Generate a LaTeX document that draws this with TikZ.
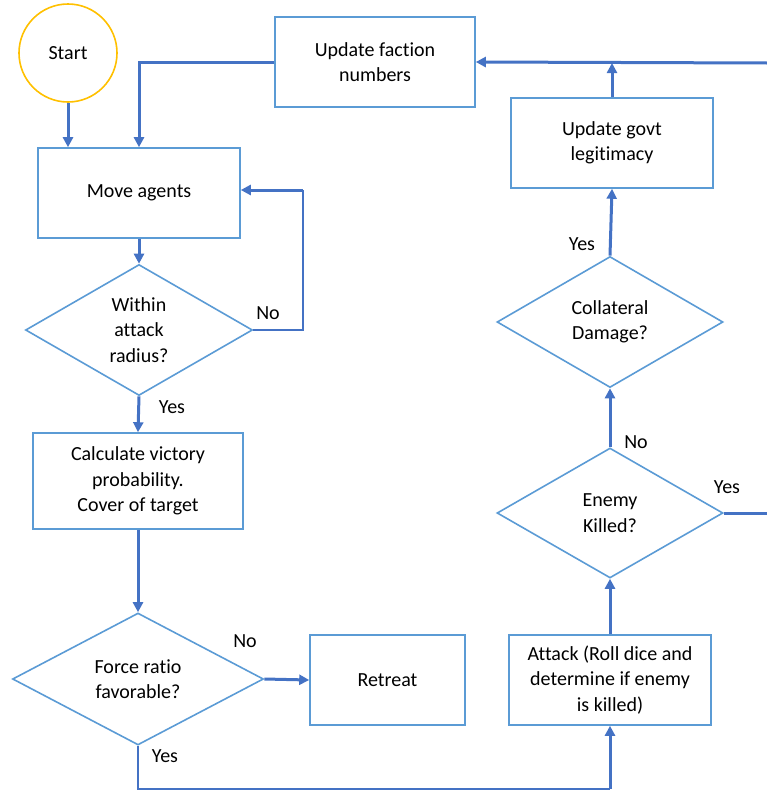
\documentclass[tikz,border=0pt]{standalone}
\usepackage{fontspec}
\setmainfont{Carlito}[Ligatures=NoCommon]
\usetikzlibrary{shapes.geometric,arrows.meta}

\definecolor{boxblue}{HTML}{5B9BD5}
\definecolor{linkblue}{HTML}{4472C4}
\definecolor{startgold}{HTML}{FFC000}

\begin{document}
\begin{tikzpicture}[x=1pt,y=-1pt,
  every node/.style={font=\fontsize{20}{25.5}\selectfont, text=black},
  box/.style={draw=boxblue, line width=1.6pt, rectangle, align=center, inner sep=0pt},
  decision/.style={draw=boxblue, line width=1.6pt, diamond, shape aspect=1.74,
                   align=center, inner sep=0pt},
  terminal/.style={draw=startgold, line width=1.6pt, circle, inner sep=0pt, minimum size=98pt},
  link/.style={draw=linkblue, line width=3pt, -{Triangle[length=10pt,width=10pt]}},
  plainlink/.style={draw=linkblue, line width=3pt},
  thinlink/.style={draw=linkblue, line width=1.5pt},
  tag/.style={inner sep=0pt}
]
\useasboundingbox (0,0) rectangle (767,790);
\clip (0,0) rectangle (767,790);

% process steps
\node[terminal] (start) at (68,53) {Start};
\node[box, minimum width=200pt, minimum height=90pt] (faction) at (375,62) {Update faction\\numbers};
\node[box, minimum width=202pt, minimum height=90pt] (govt) at (612,143) {Update govt\\legitimacy};
\node[box, minimum width=202pt, minimum height=90pt] (move) at (139,193) {Move agents};
\node[decision, minimum width=227pt, minimum height=131pt] (radius) at (139,330) {Within\\attack\\radius?};
\node[box, minimum width=210pt, minimum height=96pt] (calc) at (138,481) {Calculate victory\\probability.\\Cover of target};
\node[decision, minimum width=251pt, minimum height=132pt] (force) at (138,679) {Force ratio\\favorable?};
\node[box, minimum width=155pt, minimum height=90pt] (retreat) at (387.5,680) {Retreat};
\node[box, minimum width=202pt, minimum height=90pt] (attack) at (610,680) {Attack (Roll dice and\\determine if enemy\\is killed)};
\node[decision, minimum width=226pt, minimum height=130pt] (enemy) at (610,513) {Enemy\\Killed?};
\node[decision, minimum width=226pt, minimum height=131pt] (collat) at (610,322) {Collateral\\Damage?};

% free ends and bends
\coordinate (rin) at (767,63);
\coordinate (rout) at (767,513);
\coordinate (loopTop) at (303,190);
\coordinate (bottomTurn) at (610,789);

% connectors
\draw[link] (start.south) -- (start.south |- move.north);
\draw[link] (faction.west) -| (move.north);
\draw[link] (rin) -- (faction.east);
\draw[link] (move.south) -- (radius.north);
\draw[thinlink] (radius.east) -| (loopTop);
\draw[link] (loopTop) -- (loopTop -| move.east);
\draw[link] (radius.south) -- (calc.north);
\draw[link] (calc.south) -- (force.north);
\draw[link] (force.east) -- (retreat.west);
\draw[thinlink] (force.south) |- (bottomTurn);
\draw[link] (bottomTurn) -- (attack.south);
\draw[link] (attack.north) -- (enemy.south);
\draw[link] (enemy.north) -- (collat.south);
\draw[plainlink] (enemy.east) -- (rout);
\draw[link] (collat.north) -- (govt.south);
\draw[link] (govt.north) -- (govt.north |- rin);

% branch labels
\node[tag] (noA) at (268,313) {No};
\node[tag] (yesA) at (172,407) {Yes};
\node[tag] (noB) at (245,641) {No};
\node[tag] (yesB) at (165,756) {Yes};
\node[tag] (yesC) at (582,244) {Yes};
\node[tag] (noC) at (636,442) {No};
\node[tag] (yesD) at (727,487) {Yes};
\end{tikzpicture}
\end{document}
